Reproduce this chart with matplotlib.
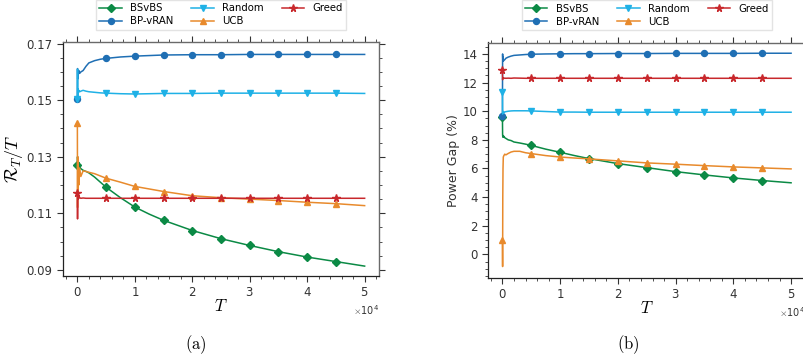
import numpy as np
import matplotlib
matplotlib.use("Agg")
import matplotlib.pyplot as plt
from matplotlib.ticker import AutoMinorLocator, FixedLocator, FormatStrFormatter

plt.rcParams["mathtext.fontset"] = "cm"
plt.rcParams["font.family"] = ["DejaVu Sans"]

# Horizon values T at which the running metrics were recorded
T = [0, 30, 60, 100, 150, 250, 400, 600, 1000, 1500, 2000, 3000, 4000, 5000,
     7500, 10000, 12500, 15000, 20000, 25000, 30000, 35000, 40000, 45000, 50000]

labels = ["BSvBS", "BP-vRAN", "Random", "UCB", "Greed"]
colors = ["#0b8a45", "#1f6fb4", "#1fb1e6", "#e88a2c", "#c8282c"]
markers = ["D", "o", "v", "^", "*"]

# (a) time-averaged regret R_T / T
regret_bsvbs = [0.1272, 0.1300, 0.1285, 0.1295, 0.1270, 0.1280, 0.1265, 0.1258, 0.1252,
                0.1248, 0.1243, 0.1228, 0.1210, 0.1192, 0.1155, 0.1122, 0.1097, 0.1075,
                0.1039, 0.1010, 0.0986, 0.0964, 0.0945, 0.0929, 0.0913]
regret_bpvran = [0.1503, 0.1612, 0.1575, 0.1600, 0.1590, 0.1605, 0.1595, 0.1600, 0.1605,
                 0.1620, 0.1632, 0.1640, 0.1645, 0.1648, 0.1653, 0.1656, 0.1658, 0.1660,
                 0.1661, 0.1661, 0.1662, 0.1662, 0.1662, 0.1662, 0.1662]
regret_random = [0.1505, 0.1610, 0.1500, 0.1540, 0.1525, 0.1535, 0.1530, 0.1532, 0.1535,
                 0.1532, 0.1530, 0.1528, 0.1526, 0.1525, 0.1523, 0.1522, 0.1523, 0.1524,
                 0.1524, 0.1525, 0.1525, 0.1525, 0.1525, 0.1525, 0.1524]
regret_ucb = [0.1420, 0.1120, 0.1300, 0.1150, 0.1270, 0.1200, 0.1260, 0.1230, 0.1250,
              0.1248, 0.1245, 0.1240, 0.1232, 0.1224, 0.1210, 0.1195, 0.1186, 0.1177,
              0.1162, 0.1155, 0.1150, 0.1145, 0.1139, 0.1134, 0.1127]
regret_greed = [0.1173, 0.1080, 0.1160, 0.1150, 0.1156, 0.1153, 0.1155, 0.1153, 0.1154,
                0.1153, 0.1153, 0.1153, 0.1153, 0.1153, 0.1153, 0.1153, 0.1153, 0.1153,
                0.1153, 0.1153, 0.1153, 0.1153, 0.1153, 0.1153, 0.1153]

# (b) power gap in percent
gap_bsvbs = [9.63, 8.35, 8.20, 8.30, 8.20, 8.25, 8.15, 8.10, 8.00, 7.95, 7.85, 7.78, 7.70,
             7.61, 7.35, 7.13, 6.90, 6.69, 6.34, 6.06, 5.78, 5.55, 5.34, 5.16, 5.00]
gap_bpvran = [9.70, 14.00, 13.60, 13.80, 13.50, 13.55, 13.60, 13.70, 13.78, 13.85, 13.90,
              13.93, 13.96, 13.98, 14.00, 14.01, 14.02, 14.02, 14.03, 14.03, 14.04, 14.04,
              14.04, 14.05, 14.05]
gap_random = [11.37, 9.80, 10.00, 9.85, 9.95, 9.90, 9.95, 9.97, 10.00, 10.02, 10.03, 10.03,
              10.03, 10.02, 9.98, 9.94, 9.94, 9.93, 9.93, 9.93, 9.93, 9.93, 9.93, 9.93, 9.93]
gap_ucb = [1.00, -0.85, 4.00, 6.00, 6.80, 6.90, 7.00, 6.95, 7.05, 7.15, 7.20, 7.20, 7.10,
           7.04, 6.90, 6.80, 6.73, 6.67, 6.53, 6.39, 6.30, 6.20, 6.11, 6.04, 5.97]
gap_greed = [12.90, 12.20, 12.35, 12.30, 12.32, 12.30, 12.31, 12.30, 12.31, 12.30, 12.32,
             12.31, 12.30, 12.30, 12.30, 12.30, 12.30, 12.30, 12.30, 12.30, 12.30, 12.30,
             12.30, 12.30, 12.30]

regret_series = [regret_bsvbs, regret_bpvran, regret_random, regret_ucb, regret_greed]
gap_series = [gap_bsvbs, gap_bpvran, gap_random, gap_ucb, gap_greed]

# markers every 5000 steps (not on the final point)
mark_idx = [i for i, t in enumerate(T) if t % 5000 == 0 and t < 50000]

fig = plt.figure(figsize=(8.04, 3.59), dpi=100)
W, H = 804.0, 359.0
ax_a = fig.add_axes([63 / W, 1 - 276 / H, (379 - 63) / W, (276 - 42) / H])
ax_b = fig.add_axes([488 / W, 1 - 278 / H, (805.5 - 488) / W, (278 - 42.5) / H])


def draw(ax, series):
    for ys, lab, c, m in zip(series, labels, colors, markers):
        ms = 5.5 if m == "*" else 4.3
        ax.plot(T, ys, color=c, marker=m, markevery=mark_idx, markersize=ms,
                linewidth=1.1, label=lab)
    ax.set_xlim(-2500, 52500)
    ax.ticklabel_format(axis="x", style="sci", scilimits=(0, 0), useMathText=True)
    ax.xaxis.get_offset_text().set_fontsize(7)
    ax.xaxis.get_offset_text().set_color("#333333")
    ax.xaxis.set_minor_locator(AutoMinorLocator(5))
    ax.yaxis.set_minor_locator(AutoMinorLocator(4))
    ax.tick_params(which="both", direction="out", top=True, right=True,
                   colors="#333333", labelsize=8.5, labelcolor="#333333")
    ax.tick_params(which="major", length=4, width=0.8)
    ax.tick_params(which="minor", length=2, width=0.6)
    for side in ("left", "bottom"):
        ax.spines[side].set_color("#222222")
        ax.spines[side].set_linewidth(0.9)
    for side in ("top", "right"):
        ax.spines[side].set_color("#6a6a6a")
        ax.spines[side].set_linewidth(1.0)
    ax.set_xlabel(r"$T$", fontsize=12, labelpad=-2)
    ax.legend(loc="lower center", bbox_to_anchor=(0.5, 1.03), ncol=3, fontsize=7.3,
              frameon=True, fancybox=False, edgecolor="#dddddd", borderpad=0.35,
              handlelength=2.2, columnspacing=1.8, labelspacing=0.3, handletextpad=0.8)


draw(ax_a, regret_series)
ax_a.set_ylim(0.0878, 0.1706)
ax_a.yaxis.set_major_locator(FixedLocator([0.09, 0.11, 0.13, 0.15, 0.17]))
ax_a.yaxis.set_major_formatter(FormatStrFormatter("%.2f"))
ax_a.set_ylabel(r"$\mathcal{R}_T/T$", fontsize=13, labelpad=1)

draw(ax_b, gap_series)
ax_b.set_ylim(-1.65, 14.8)
ax_b.yaxis.set_major_locator(FixedLocator([0, 2, 4, 6, 8, 10, 12, 14]))
ax_b.set_ylabel("Power Gap (%)", fontsize=9, color="#333333", labelpad=2)

fig.text(196 / W, 1 - 345 / H, r"$\mathrm{(a)}$", ha="center", va="center", fontsize=12)
fig.text(628 / W, 1 - 345 / H, r"$\mathrm{(b)}$", ha="center", va="center", fontsize=12)

fig.savefig("out.png", dpi=100)
